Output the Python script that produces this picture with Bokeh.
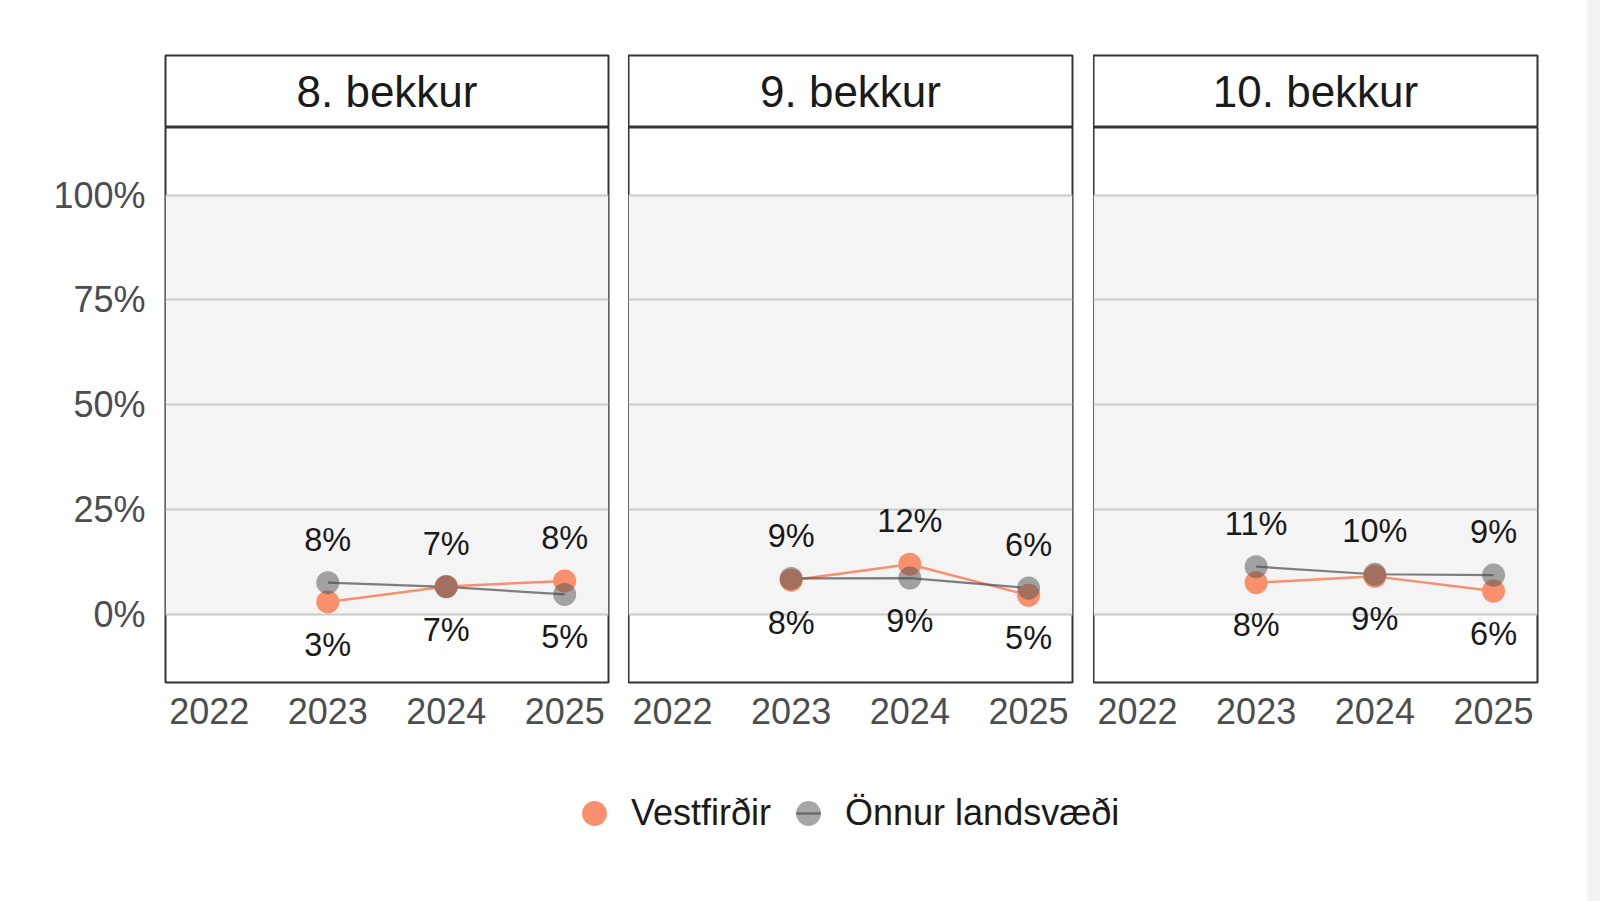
from bokeh.plotting import figure
from bokeh.layouts import row, column
from bokeh.models import Range1d, FixedTicker, BoxAnnotation, Legend, LegendItem
from bokeh.core.properties import value
from bokeh.embed import file_html
from bokeh.resources import INLINE

# ---------------- data ----------------
grades = ["8. bekkur", "9. bekkur", "10. bekkur"]
years = [2023, 2024, 2025]
x_ticks = [2022, 2023, 2024, 2025]
x_tick_labels = ["2022", "2023", "2024", "2025"]
y_ticks = [0, 25, 50, 75, 100]
y_tick_labels = ["0%", "25%", "50%", "75%", "100%"]
series_names = ["Vestfirðir", "Önnur landsvæði"]

vest_8 = [3.0, 6.7, 8.0]
onnur_8 = [7.6, 6.6, 4.8]
vest_9 = [8.2, 12.0, 4.6]
onnur_9 = [8.6, 8.7, 6.3]
vest_10 = [7.6, 9.1, 5.6]
onnur_10 = [11.4, 9.6, 9.4]

vest = [vest_8, vest_9, vest_10]
onnur = [onnur_8, onnur_9, onnur_10]

# ---------------- style ----------------
FONT = "Liberation Sans"
ORANGE = "#F8906E"
GRAY = "#4d4d4d"
FRAME = "#333333"
BAND = "#f4f4f4"
GRID = "#c9c9c9"
PT = 23

frame_widths = [443, 444, 444]
left_borders = [165, 0, 0]
right_borders = [20, 21, 50]
STRIP_H = 72
PLOT_H = 555

strips = []
panels = []
for i in range(3):
    # strip header
    s = figure(frame_width=frame_widths[i], frame_height=STRIP_H,
               x_range=Range1d(0, 1), y_range=Range1d(0, 1),
               x_axis_location=None, y_axis_location=None,
               toolbar_location=None, output_backend="svg", title=None,
               min_border_left=left_borders[i], min_border_right=right_borders[i],
               min_border_top=55, min_border_bottom=0)
    s.grid.visible = False
    s.outline_line_color = FRAME
    s.outline_line_width = 2
    s.background_fill_color = "white"
    s.border_fill_color = "white"
    s.text(x=[0.5], y=[0.5], text=[grades[i]], text_font=value(FONT),
           text_font_size="44px", text_color="#1a1a1a",
           text_align="center", text_baseline="middle")
    strips.append(s)

    # panel
    p = figure(frame_width=frame_widths[i], frame_height=PLOT_H,
               x_range=Range1d(2021.63, 2025.37), y_range=Range1d(-16.2, 116.1),
               y_axis_location="left" if i == 0 else None,
               toolbar_location=None, output_backend="svg", title=None,
               min_border_left=left_borders[i], min_border_right=right_borders[i],
               min_border_top=0, min_border_bottom=60)
    p.outline_line_color = FRAME
    p.outline_line_width = 2
    p.background_fill_color = "white"
    p.border_fill_color = "white"
    p.xgrid.visible = False
    p.ygrid.ticker = FixedTicker(ticks=y_ticks)
    p.ygrid.grid_line_color = GRID
    p.ygrid.grid_line_width = 2
    p.add_layout(BoxAnnotation(bottom=0, top=100, fill_color=BAND, fill_alpha=1,
                               line_color=None, level="image"))

    p.xaxis.ticker = FixedTicker(ticks=x_ticks)
    p.xaxis.major_label_overrides = dict(zip(x_ticks, x_tick_labels))
    if i == 0:
        p.yaxis.ticker = FixedTicker(ticks=y_ticks)
        p.yaxis.major_label_overrides = dict(zip(y_ticks, y_tick_labels))
    for ax in p.axis:
        ax.axis_line_color = None
        ax.major_tick_line_color = None
        ax.minor_tick_line_color = None
        ax.major_tick_out = 0
        ax.major_tick_in = 0
        ax.major_label_text_font = FONT
        ax.major_label_text_font_size = "36px"
        ax.major_label_text_color = "#4d4d4d"
    p.xaxis.major_label_standoff = 15
    if i == 0:
        p.yaxis.major_label_standoff = 20

    v = vest[i]
    o = onnur[i]
    p.line(years, v, line_color=ORANGE, line_width=2.5)
    p.line(years, o, line_color="#555555", line_alpha=0.75, line_width=2.2)
    p.scatter(years, v, size=PT, fill_color=ORANGE, line_color=None)
    p.scatter(years, o, size=PT, fill_color=GRAY, fill_alpha=0.5, line_color=None)

    lx, ly, lt = [], [], []
    for yr, a, b in zip(years, v, o):
        hi, lo = (a, b) if a >= b else (b, a)
        lx += [yr, yr]
        ly += [hi + 10.2, lo - 10.2]
        lt += [f"{round(hi)}%", f"{round(lo)}%"]
    p.text(x=lx, y=ly, text=lt, text_font=value(FONT), text_font_size="32.5px",
           text_color="#1a1a1a", text_align="center", text_baseline="middle")
    panels.append(p)

# legend figure (legend keys only; the dummy renderers hold no visible point)
nan = float("nan")
lg = figure(width=1587, height=140, x_range=Range1d(0, 1), y_range=Range1d(0, 1),
            x_axis_location=None, y_axis_location=None, toolbar_location=None,
            output_backend="svg", title=None,
            min_border_left=0, min_border_right=0, min_border_top=0, min_border_bottom=0)
lg.grid.visible = False
lg.outline_line_color = None
lg.border_fill_color = "white"
lg.background_fill_color = "white"
r1 = lg.scatter(x=[nan], y=[nan], size=PT, fill_color=ORANGE, line_color=None)
r2 = lg.scatter(x=[nan], y=[nan], marker="dash", size=PT, line_color="#555555",
                line_alpha=0.75, line_width=2.2)
r3 = lg.scatter(x=[nan], y=[nan], size=PT, fill_color=GRAY, fill_alpha=0.5, line_color=None)
legend = Legend(items=[LegendItem(label=series_names[0], renderers=[r1]),
                       LegendItem(label=series_names[1], renderers=[r2, r3])],
                orientation="horizontal", location=(563, 38),
                glyph_width=62, glyph_height=62, label_standoff=6, spacing=6,
                padding=0, margin=0, border_line_color=None,
                background_fill_alpha=0,
                label_text_font=FONT, label_text_font_size="36px",
                label_text_color="#1a1a1a")
lg.add_layout(legend)

layout = column(row(*strips), row(*panels), lg)

template = """
{% block postamble %}
<style>
body { background: linear-gradient(to right, #ffffff 1587px, #f2f2f2 1587px); }
</style>
{% endblock %}
"""
open("out.html", "w").write(file_html(layout, INLINE, template=template))
